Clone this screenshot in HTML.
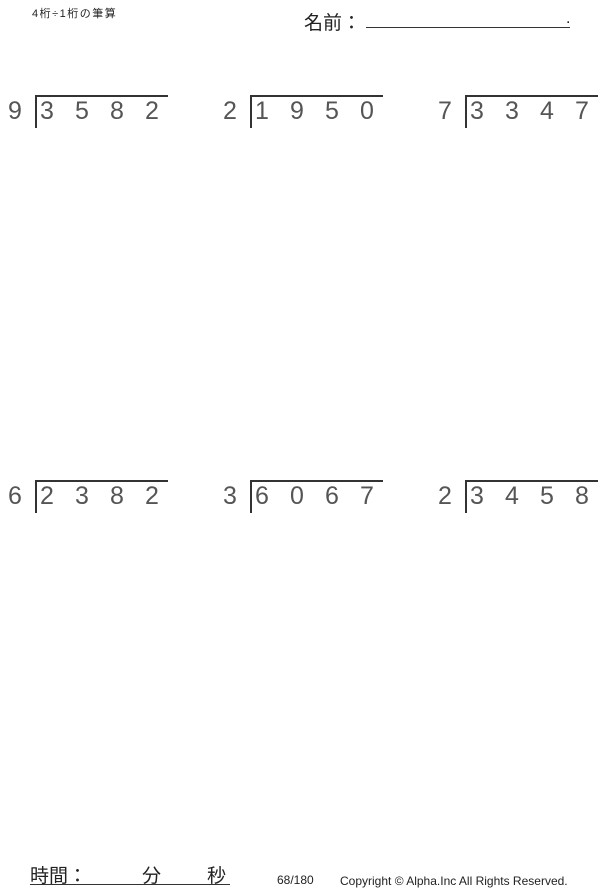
<!DOCTYPE html>
<html><head><meta charset="utf-8"><style>
body{margin:0;width:600px;height:891px;background:#fff;position:relative;overflow:hidden;font-family:"Liberation Sans","Noto Sans CJK JP",sans-serif;color:#222}
.a{position:absolute;white-space:nowrap}
.d{position:absolute;font-size:25px;font-weight:300;line-height:30px;color:#555}
.v{position:absolute;width:1.5px;height:33px;background:#333}
.h{position:absolute;height:1.5px;background:#333}
</style></head><body>
<div class="a" style="left:32px;top:5px;font-size:11px;letter-spacing:1.5px">4桁÷1桁の筆算</div>
<div class="a" style="left:304px;top:8px;font-size:19px">名前：</div>
<div class="h" style="left:366px;top:27px;width:204px;height:1px"></div>
<div class="a" style="left:566px;top:10px;font-size:16px">.</div>

<div id="p"></div>

<div class="a" style="left:30px;top:861px;font-size:19px">時間：</div>
<div class="a" style="left:142px;top:861px;font-size:19px">分</div>
<div class="a" style="left:207px;top:861px;font-size:19px">秒</div>
<div class="h" style="left:30px;top:884px;width:200px;height:1px"></div>
<div class="a" style="left:277px;top:873px;font-size:12px">68/180</div>
<div class="a" style="left:340px;top:874px;font-size:12px">Copyright © Alpha.Inc All Rights Reserved.</div>
<script>
var P=[[0,95,"9","3582"],[215,95,"2","1950"],[430,95,"7","3347"],[0,480,"6","2382"],[215,480,"3","6067"],[430,480,"2","3458"]];
var h="";
P.forEach(function(p){var x=p[0],y=p[1];
h+='<div class="d" style="left:'+(x+8)+'px;top:'+(y+1)+'px">'+p[2]+'</div>';
h+='<div class="v" style="left:'+(x+35)+'px;top:'+y+'px"></div>';
h+='<div class="h" style="left:'+(x+35)+'px;top:'+y+'px;width:'+Math.min(133,600-x-35)+'px"></div>';
for(var i=0;i<4;i++)h+='<div class="d" style="left:'+(x+40+i*35)+'px;top:'+(y+1)+'px">'+p[3][i]+'</div>';});
document.getElementById("p").innerHTML=h;
</script>
</body></html>
